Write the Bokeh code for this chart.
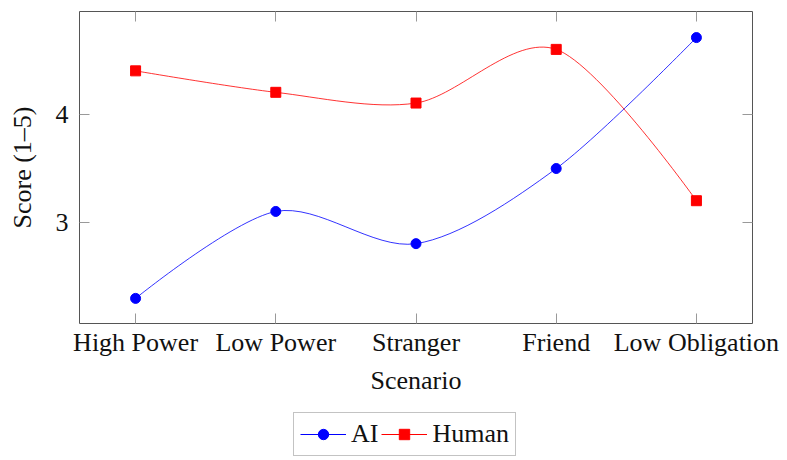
import numpy as np
from bokeh.plotting import figure
from bokeh.layouts import column
from bokeh.models import (Range1d, FixedTicker, LinearAxis, Legend, LegendItem,
                          ColumnDataSource, CustomLabelingPolicy)
from bokeh.embed import file_html
from bokeh.resources import INLINE

# ---- data ----
scenarios = ["High Power", "Low Power", "Stranger", "Friend", "Low Obligation"]
ai_scores = [2.29, 3.10, 2.80, 3.50, 4.72]
human_scores = [4.41, 4.21, 4.11, 4.61, 3.20]
y_ticks = [3, 4]
series_names = ["AI", "Human"]

FONT = "Liberation Serif"
FS = "26px"
TXT = "#111111"
BLUE = "#0000ff"
RED = "#ff0000"


def smooth_segments(xs, ys, tension=0.55):
    """Cubic Bezier segments of a pgf-style smooth curve through the points."""
    f = 0.2775 * tension
    n = len(xs)

    def d(i):
        if i == 0 or i == n - 1:
            return (0.0, 0.0)
        return (xs[i + 1] - xs[i - 1], ys[i + 1] - ys[i - 1])

    out = dict(x0=[], y0=[], x1=[], y1=[], cx0=[], cy0=[], cx1=[], cy1=[])
    for i in range(n - 1):
        da, db = d(i), d(i + 1)
        out["x0"].append(xs[i]); out["y0"].append(ys[i])
        out["x1"].append(xs[i + 1]); out["y1"].append(ys[i + 1])
        out["cx0"].append(xs[i] + f * da[0]); out["cy0"].append(ys[i] + f * da[1])
        out["cx1"].append(xs[i + 1] - f * db[0]); out["cy1"].append(ys[i + 1] - f * db[1])
    return ColumnDataSource(out)


xpos = list(range(len(scenarios)))

p = figure(width=787, height=405, output_backend="svg", toolbar_location=None,
           x_range=Range1d(-0.4, len(scenarios) - 1 + 0.4),
           y_range=Range1d(2.056, 4.963),
           min_border_left=79, min_border_right=35, min_border_top=8,
           min_border_bottom=82)
p.grid.visible = False
p.outline_line_color = "#555555"
p.outline_line_width = 1
p.background_fill_color = "white"
p.border_fill_color = "white"

# smooth curves
p.bezier(x0="x0", y0="y0", x1="x1", y1="y1", cx0="cx0", cy0="cy0", cx1="cx1",
         cy1="cy1", source=smooth_segments(xpos, ai_scores), line_color=BLUE,
         line_width=1, line_alpha=0.8)
p.bezier(x0="x0", y0="y0", x1="x1", y1="y1", cx0="cx0", cy0="cy0", cx1="cx1",
         cy1="cy1", source=smooth_segments(xpos, human_scores), line_color=RED,
         line_width=1, line_alpha=0.8)

p.scatter(xpos, ai_scores, marker="circle", size=10, fill_color=BLUE, line_color=BLUE)
p.scatter(xpos, human_scores, marker="square", size=10, fill_color=RED, line_color=RED)

no_labels = CustomLabelingPolicy(code="""
for (let i = 0; i < indices.size; i++) indices.unset(i)
return indices
""")


def style_axis(ax, labels=True):
    ax.axis_line_color = None
    ax.major_tick_in = 10
    ax.major_tick_out = 0
    ax.major_tick_line_color = "#999999"
    ax.major_tick_line_width = 1
    ax.minor_tick_line_color = None
    if labels:
        ax.major_label_text_font = FONT
        ax.major_label_text_font_size = FS
        ax.major_label_text_color = TXT
        ax.axis_label_text_font = FONT
        ax.axis_label_text_font_size = FS
        ax.axis_label_text_font_style = "normal"
        ax.axis_label_text_color = TXT
    else:
        ax.major_label_policy = no_labels
        ax.major_label_standoff = 0


xa = p.xaxis[0]
xa.ticker = FixedTicker(ticks=xpos)
xa.major_label_overrides = {i: s for i, s in enumerate(scenarios)}
xa.axis_label = "Scenario"
style_axis(xa)
xa.major_label_standoff = 4
xa.axis_label_standoff = 6

ya = p.yaxis[0]
ya.ticker = FixedTicker(ticks=y_ticks)
ya.axis_label = "Score (1–5)"
style_axis(ya)
ya.major_label_standoff = 11
ya.axis_label_standoff = 16

top = LinearAxis(ticker=FixedTicker(ticks=xpos))
style_axis(top, labels=False)
p.add_layout(top, "above")
right = LinearAxis(ticker=FixedTicker(ticks=y_ticks))
style_axis(right, labels=False)
p.add_layout(right, "right")

# ---- legend strip below the chart ----
lg = figure(width=787, height=55, output_backend="svg", toolbar_location=None,
            x_axis_type=None, y_axis_type=None, x_range=Range1d(0, 1),
            y_range=Range1d(0, 1), min_border=0)
lg.grid.visible = False
lg.outline_line_color = None
lg.background_fill_color = "white"
lg.border_fill_color = "white"
nan = [float("nan")]
ai_l = lg.line(nan, nan, line_color=BLUE, line_width=1)
ai_m = lg.scatter(nan, nan, marker="circle", size=10, fill_color=BLUE, line_color=BLUE)
hu_l = lg.line(nan, nan, line_color=RED, line_width=1)
hu_m = lg.scatter(nan, nan, marker="square", size=10, fill_color=RED, line_color=RED)

legend = Legend(items=[LegendItem(label=series_names[0], renderers=[ai_l, ai_m]),
                       LegendItem(label=series_names[1], renderers=[hu_l, hu_m])],
                orientation="horizontal", location=(214, 4), padding=6,
                spacing=3, label_standoff=5, glyph_width=46, glyph_height=26,
                border_line_color="#888888", border_line_width=1,
                label_text_font=FONT, label_text_font_size=FS,
                label_text_color=TXT, margin=0, background_fill_alpha=1)
lg.add_layout(legend, "center")

open("out.html", "w").write(file_html(column(p, lg, spacing=0), INLINE))
